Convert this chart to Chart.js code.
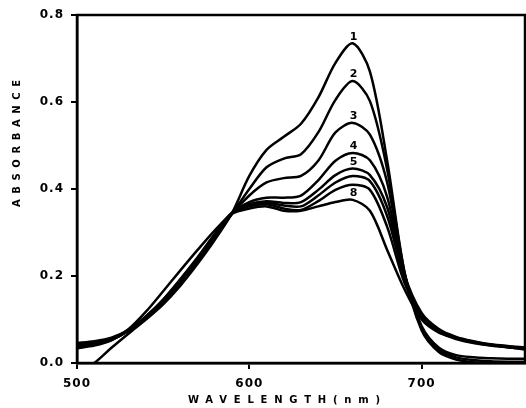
<!DOCTYPE html>
<html>
<head>
<meta charset="utf-8">
<script src="https://cdn.jsdelivr.net/npm/chart.js"></script>
<style>
  body { margin: 0; background: #fff; }
  #wrap { width: 526px; height: 408px; }
</style>
</head>
<body>
<div id="wrap"><canvas id="spectra"></canvas></div>
<script>
// absorbance spectra, wavelength in nm
const wavelengths = [500, 510, 520, 530, 540, 550, 560, 570, 580, 590, 600, 610, 620, 630, 640, 650, 660, 670, 680, 690, 700, 710, 720, 730, 740, 750, 760];

const curve1 = [-0.025, 0.0, 0.035, 0.068, 0.100, 0.135, 0.178, 0.228, 0.283, 0.345, 0.430, 0.490, 0.520, 0.550, 0.610, 0.690, 0.735, 0.670, 0.465, 0.210, 0.075, 0.025, 0.008, 0.002, 0.000, -0.002, -0.003];
const curve2 = [0.046, 0.050, 0.058, 0.076, 0.104, 0.138, 0.182, 0.232, 0.288, 0.343, 0.400, 0.450, 0.470, 0.480, 0.530, 0.605, 0.648, 0.602, 0.445, 0.210, 0.080, 0.030, 0.013, 0.007, 0.004, 0.003, 0.003];
const curve3 = [0.044, 0.048, 0.057, 0.075, 0.105, 0.140, 0.184, 0.234, 0.290, 0.343, 0.385, 0.415, 0.425, 0.430, 0.465, 0.530, 0.552, 0.525, 0.415, 0.205, 0.085, 0.035, 0.018, 0.013, 0.011, 0.010, 0.010];
const curve4 = [0.042, 0.047, 0.056, 0.076, 0.106, 0.142, 0.187, 0.237, 0.292, 0.344, 0.370, 0.380, 0.380, 0.385, 0.420, 0.465, 0.483, 0.466, 0.382, 0.205, 0.115, 0.078, 0.060, 0.050, 0.043, 0.039, 0.036];
const curve5 = [0.040, 0.045, 0.055, 0.075, 0.106, 0.143, 0.189, 0.239, 0.293, 0.344, 0.365, 0.372, 0.368, 0.370, 0.398, 0.432, 0.447, 0.432, 0.358, 0.200, 0.112, 0.076, 0.058, 0.048, 0.042, 0.038, 0.035];
const curve6 = [0.038, 0.044, 0.054, 0.075, 0.107, 0.145, 0.191, 0.241, 0.295, 0.345, 0.362, 0.368, 0.362, 0.360, 0.385, 0.415, 0.430, 0.418, 0.338, 0.195, 0.110, 0.074, 0.057, 0.047, 0.041, 0.037, 0.034];
const curve7 = [0.036, 0.042, 0.053, 0.074, 0.107, 0.146, 0.193, 0.243, 0.297, 0.346, 0.360, 0.365, 0.355, 0.352, 0.372, 0.398, 0.410, 0.398, 0.313, 0.185, 0.107, 0.072, 0.055, 0.046, 0.040, 0.036, 0.033];
const curve8 = [0.034, 0.040, 0.052, 0.078, 0.118, 0.165, 0.213, 0.260, 0.305, 0.343, 0.355, 0.360, 0.350, 0.350, 0.360, 0.370, 0.375, 0.350, 0.260, 0.170, 0.100, 0.070, 0.058, 0.049, 0.042, 0.036, 0.031];

const curves = [curve1, curve2, curve3, curve4, curve5, curve6, curve7, curve8];
const curveLabels = ['1', '2', '3', '4', '5', '', '', '8'];
const labelAt = 660;

const xTicks = [500, 600, 700];
const yTicks = [0.0, 0.2, 0.4, 0.6, 0.8];
const xTitle = 'WAVELENGTH(nm)';
const yTitle = 'ABSORBANCE';

const tickFont = { family: 'DejaVu Sans', weight: 'bold', size: 12 };

// draw text stretched to a given width (the original uses very wide letter spacing)
function spacedText(ctx, text, x, y, width) {
    ctx.letterSpacing = '0px';
    const w = ctx.measureText(text).width;
    ctx.letterSpacing = ((width - w) / (text.length - 1)) + 'px';
    ctx.textAlign = 'left';
    ctx.textBaseline = 'middle';
    ctx.fillText(text, x, y);
}

const framePlugin = {
    id: 'frame',
    beforeDraw(chart) {
        chart.ctx.letterSpacing = '1px';
    },
    afterDatasetsDraw(chart) {
        const { ctx, chartArea: a, scales } = chart;
        ctx.save();
        ctx.letterSpacing = '0px';
        ctx.strokeStyle = '#000';
        ctx.lineWidth = 2.5;
        ctx.strokeRect(a.left, a.top, a.right - a.left, a.bottom - a.top);

        // curve numbers above the 660 nm peaks
        const idx = wavelengths.indexOf(labelAt);
        ctx.fillStyle = '#000';
        ctx.font = 'bold 11px "DejaVu Sans"';
        ctx.textAlign = 'center';
        ctx.textBaseline = 'bottom';
        curves.forEach((c, k) => {
            if (!curveLabels[k]) return;
            ctx.fillText(curveLabels[k], scales.x.getPixelForValue(labelAt) + 1, scales.y.getPixelForValue(c[idx]) - 1);
        });

        ctx.font = 'bold 10px "DejaVu Sans"';
        spacedText(ctx, xTitle, 188, 400, 192);
        ctx.translate(17, 207);
        ctx.rotate(-Math.PI / 2);
        spacedText(ctx, yTitle, 0, 0, 127);
        ctx.restore();
    }
};

new Chart(document.getElementById('spectra'), {
    type: 'line',
    data: {
        datasets: curves.map((c, k) => ({
            label: 'curve ' + (k + 1),
            data: wavelengths.map((w, i) => ({ x: w, y: c[i] })),
            borderColor: '#000',
            borderWidth: 2.5,
            pointRadius: 0,
            fill: false,
            tension: 0.3
        }))
    },
    options: {
        responsive: true,
        maintainAspectRatio: false,
        animation: false,
        layout: { padding: { top: 15, right: 1, left: 0, bottom: 0 } },
        plugins: {
            legend: { display: false },
            tooltip: { enabled: false }
        },
        scales: {
            x: {
                type: 'linear',
                min: 500,
                max: 760,
                afterBuildTicks: s => { s.ticks = xTicks.map(v => ({ value: v })); },
                afterFit: s => { s.height = 45; },
                ticks: { font: tickFont, color: '#000', padding: 8, maxRotation: 0, autoSkip: false, callback: v => String(v) },
                grid: { drawOnChartArea: false, tickLength: 6, color: '#000', lineWidth: 2 },
                border: { color: '#000', width: 2.5 }
            },
            y: {
                min: 0,
                max: 0.8,
                afterBuildTicks: s => { s.ticks = yTicks.map(v => ({ value: v })); },
                afterFit: s => { s.width = 77; },
                ticks: { font: tickFont, color: '#000', padding: 7, callback: v => v.toFixed(1) },
                grid: { drawOnChartArea: false, tickLength: 6, color: '#000', lineWidth: 2 },
                border: { color: '#000', width: 2.5 }
            }
        }
    },
    plugins: [framePlugin]
});
</script>
</body>
</html>
